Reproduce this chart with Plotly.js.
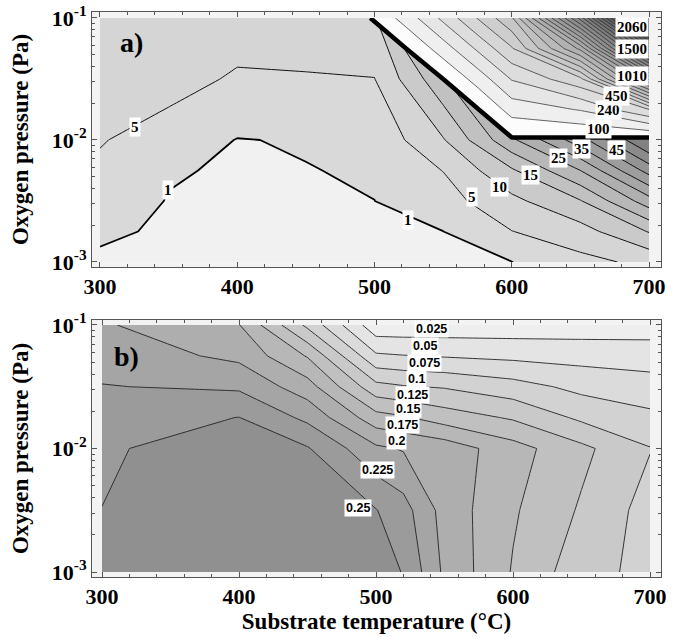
<!DOCTYPE html>
<html><head><meta charset="utf-8">
<script src="https://cdn.plot.ly/plotly-3.0.1.min.js"></script>
<style>html,body{margin:0;padding:0;background:#fff;}#chart{width:678px;height:637px;}</style>
</head><body><div id="chart"></div>
<script>
// ---------- DATA ----------
// Panel a, low-value region: substrate temperature (C) and log10 of oxygen pressure (Pa)
const tempA = [300, 350, 400, 450, 500, 550, 600, 650, 700];
const logPA = [-3, -2.75, -2.5, -2.25, -2, -1.5, -1];
const zLowA = [
  [0.5, 0.4, 0.3, 0.3, 0.4, 0.5, 0.95, 3.6, 6.2],
  [1.5, 0.6, 0.4, 0.4, 0.7, 0.98, 4.9, 8.0, 15.3],
  [3.0, 0.85, 0.55, 0.6, 0.99, 3.0, 8.7, 14.7, 27.8],
  [4.2, 1.3, 0.6, 0.92, 1.253, 5.1, 14.3, 25, 42],
  [5.3, 2.9, 0.9, 1.2, 1.39, 9.6, 24, 38, 56],
  [6.5, 6.8, 4.4, 4.6, 4.9, 19, 45, 70, 90],
  [7, 7.5, 7.5, 8, 9, 50, 60, 90, 100]
];
// Panel a, high-value region (above the thick boundary)
const tempAHigh = [300, 497, 523, 550, 576, 600, 650, 700];
const logPAHigh = [-3, -1.98, -1.75, -1.5, -1.25, -1];
const zHighA = [
  [0, 0, 0, 0, 0, 0, 0, 0],
  [0, 0, 0, 0, 0, 30.0001, 30.0001, 30.0001],
  [0, 0, 0, 0, 30.0001, 128, 175, 310],
  [0, 0, 0, 30.0001, 132, 245, 362, 950],
  [0, 0, 30.0001, 135, 256, 373, 750, 1600],
  [0, 30.0001, 130, 257, 388, 510, 1250, 2300]
];
// Panel b
const tempB = [300, 400, 450, 500, 520, 550, 600, 650, 700];
const logPB = [-3, -2.5, -2, -1.75, -1.5, -1.25, -1];
const zB = [
  [0.262, 0.28, 0.27, 0.26, 0.249, 0.195, 0.148, 0.110, 0.092],
  [0.2502, 0.275, 0.265, 0.251, 0.235, 0.19, 0.153, 0.122, 0.09],
  [0.247, 0.262, 0.252, 0.205, 0.198, 0.19, 0.16, 0.131, 0.101],
  [0.236, 0.2505, 0.219, 0.16, 0.153, 0.138, 0.122, 0.095, 0.081],
  [0.226, 0.221, 0.186, 0.108, 0.102, 0.098, 0.085, 0.068, 0.06],
  [0.215, 0.194, 0.148, 0.054, 0.051, 0.048, 0.044, 0.041, 0.039],
  [0.203, 0.176, 0.094, 0.008, 0.008, 0.009, 0.01, 0.011, 0.012]
];
// Contour label texts
const labelsA = ['1', '1', '5', '5', '10', '15', '25', '35', '45', '100', '240', '450', '1010', '1500', '2060'];
const labelsB = ['0.025', '0.05', '0.075', '0.1', '0.125', '0.15', '0.175', '0.2', '0.225', '0.25'];
const tempTicks = [300, 400, 500, 600, 700];
const pressExp = [-3, -2, -1];

// ---------- placement of labels (layout) ----------
const labelPosA = [[349.5, -2.41], [524.6, -2.656], [325.5, -1.89], [570.8, -2.465], [591.4, -2.383], [613.3, -2.287],
  [633.9, -2.15], [651, -2.07], [676.4, -2.08], [663.1, -1.912], [670.4, -1.754], [676.4, -1.639],
  [687.4, -1.475], [687.4, -1.257], [687.4, -1.071]];
const labelPosB = [[540.3, -1.035], [535.5, -1.167], [535.5, -1.305], [529.9, -1.437], [526.9, -1.567], [523.3, -1.68],
  [519.6, -1.81], [514.8, -1.937], [501.3, -2.174], [486.7, -2.484]];

// ---------- styles ----------
const serif = 'Liberation Serif, Times New Roman, serif';
const sans = 'Liberation Sans, Arial, sans-serif';
const tickFont = {family: serif, size: 22, color: '#000', weight: 'bold'};
const titleFont = {family: serif, size: 23, color: '#000', weight: 'bold'};

function grey(g) { g = Math.round(g); return 'rgb(' + g + ',' + g + ',' + g + ')'; }
function bandScale(colors) { const n = colors.length - 1; return colors.map((c, i) => [i / n, c]); }

const scaleA1 = bandScale(['#f1f1f1', '#d9d9d9']);
const scaleALow = bandScale(['rgba(0,0,0,0)', '#d5d5d5', '#cacaca', '#c1c1c1', '#b8b8b8', '#afafaf', '#a6a6a6', '#9d9d9d', '#949494', '#8b8b8b', '#828282']);
const highColors = ['rgba(0,0,0,0)'];
for (let k = 1; k <= 33; k++) {
  const mid = 30 + 70 * (k - 0.5);
  const f = Math.max(0, (mid - 65) / 2200);
  highColors.push(grey(Math.max(44, 252 - 200 * Math.pow(f, 0.8))));
}
const scaleAHigh = bandScale(highColors);
const scaleB = bandScale(['#eeeeee', '#e4e4e4', '#dbdbdb', '#d2d2d2', '#c9c9c9', '#c0c0c0', '#b7b7b7', '#aeaeae', '#a5a5a5', '#9b9b9b', '#909090']);

const common = {type: 'contour', showscale: false, autocontour: false, hoverinfo: 'skip', line: {smoothing: 0}};

const traces = [
  Object.assign({}, common, {x: tempA, y: logPA, z: zLowA, xaxis: 'x', yaxis: 'y',
    contours: {start: 1, end: 1, size: 1, coloring: 'fill'}, colorscale: scaleA1,
    line: {smoothing: 0, color: '#000', width: 1.8}}),
  Object.assign({}, common, {x: tempA, y: logPA, z: zLowA, xaxis: 'x', yaxis: 'y',
    contours: {start: 5, end: 50, size: 5, coloring: 'fill'}, colorscale: scaleALow,
    line: {smoothing: 0, color: '#111', width: 1}}),
  Object.assign({}, common, {x: tempAHigh, y: logPAHigh, z: zHighA, xaxis: 'x', yaxis: 'y',
    contours: {start: 30, end: 2270, size: 70, coloring: 'fill'}, colorscale: scaleAHigh,
    line: {smoothing: 0, color: '#222', width: 0.7}}),
  Object.assign({}, common, {x: tempAHigh, y: logPAHigh, z: zHighA, xaxis: 'x', yaxis: 'y',
    contours: {start: 30, end: 30, size: 1, coloring: 'none'},
    line: {smoothing: 0, color: '#000', width: 4.5}}),
  Object.assign({}, common, {x: tempB, y: logPB, z: zB, xaxis: 'x2', yaxis: 'y2',
    contours: {start: 0.025, end: 0.2501, size: 0.025, coloring: 'fill'}, colorscale: scaleB,
    line: {smoothing: 0, color: '#222', width: 0.9}})
];

const minorY = [];
[-3, -2].forEach(d => { for (let k = 2; k <= 9; k++) minorY.push(d + Math.log10(k)); });

function xax(range, anchor, title) {
  const a = {range: range, domain: [0, 1], anchor: anchor, tickmode: 'array', tickvals: tempTicks,
    ticktext: tempTicks.map(String), ticks: 'inside', ticklen: 5, tickwidth: 1, tickcolor: '#555',
    minor: {tickmode: 'linear', tick0: 300, dtick: 20, ticks: 'inside', ticklen: 3, tickcolor: '#555'},
    showline: true, linecolor: '#555', linewidth: 1, mirror: 'allticks', showgrid: false, zeroline: false,
    tickfont: tickFont, automargin: false, ticklabelstandoff: 0};
  if (title) a.title = {text: title, font: titleFont, standoff: 4};
  return a;
}
function yax(range, domain, anchor) {
  return {range: range, domain: domain, anchor: anchor, tickmode: 'array', tickvals: pressExp,
    ticktext: pressExp.map(e => '10<sup>' + e + '</sup>'), ticks: 'inside', ticklen: 5, tickcolor: '#555',
    minor: {tickmode: 'array', tickvals: minorY, ticks: 'inside', ticklen: 3, tickcolor: '#555'},
    showline: true, linecolor: '#555', linewidth: 1, mirror: 'allticks', showgrid: false, zeroline: false,
    tickfont: tickFont, automargin: false, ticklabelstandoff: 0,
    title: {text: 'Oxygen pressure (Pa)', font: titleFont, standoff: 16}};
}

const annotations = [];
labelsA.forEach((t, i) => annotations.push({x: labelPosA[i][0], y: labelPosA[i][1], xref: 'x', yref: 'y', text: t,
  showarrow: false, bgcolor: '#fff', borderpad: 1, font: {family: serif, size: 15, color: '#000', weight: 'bold'}}));
labelsB.forEach((t, i) => annotations.push({x: labelPosB[i][0], y: labelPosB[i][1], xref: 'x2', yref: 'y2', text: t,
  showarrow: false, bgcolor: '#fff', borderpad: 1, font: {family: sans, size: 12.5, color: '#000', weight: 'bold'}}));
annotations.push({x: 323.3, y: -1.197, xref: 'x', yref: 'y', text: 'a)', showarrow: false,
  font: {family: serif, size: 28, color: '#000', weight: 'bold'}});
annotations.push({x: 317.9, y: -1.259, xref: 'x2', yref: 'y2', text: 'b)', showarrow: false,
  font: {family: serif, size: 28, color: '#000', weight: 'bold'}});

const layout = {
  width: 678, height: 637, margin: {l: 92, r: 17, t: 12, b: 60},
  paper_bgcolor: '#ffffff', plot_bgcolor: '#f3f3f3', showlegend: false,
  xaxis: xax([294.2, 708.7], 'y', null),
  yaxis: yax([-3.041, -0.951], [0.5487, 1], 'x'),
  xaxis2: xax([292.7, 708.0], 'y2', 'Substrate temperature (°C)'),
  yaxis2: yax([-3.0405, -0.9595], [0, 0.4549], 'x2'),
  annotations: annotations
};

Plotly.newPlot('chart', traces, layout, {staticPlot: true, displayModeBar: false});
</script></body></html>
